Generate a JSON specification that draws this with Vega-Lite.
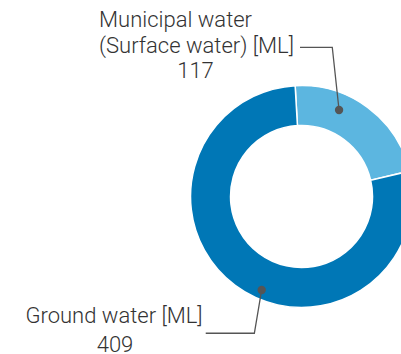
{
  "$schema": "https://vega.github.io/schema/vega-lite/v6.json",
  "width": 401,
  "height": 354,
  "padding": 0,
  "autosize": {"type": "none"},
  "background": "white",
  "config": {"view": {"stroke": null}},
  "datasets": {
    "sources": [
      {"source": "Municipal water (Surface water)", "value": 117, "rank": 1},
      {"source": "Ground water", "value": 409, "rank": 2}
    ],
    "leaders": [
      {"group": "municipal", "seq": 1, "x": -1.35, "y": 134.4},
      {"group": "municipal", "seq": 2, "x": 27.7, "y": 134.4},
      {"group": "municipal", "seq": 3, "x": 33.8, "y": 77.9},
      {"group": "ground", "seq": 1, "x": -35.9, "y": -84.2},
      {"group": "ground", "seq": 2, "x": -42.5, "y": -123.2},
      {"group": "ground", "seq": 3, "x": -86.3, "y": -123.2}
    ],
    "dots": [
      {"group": "municipal", "x": 33.8, "y": 77.9},
      {"group": "ground", "x": -35.9, "y": -84.2}
    ],
    "labels": [
      {"text": "Municipal water", "anchor": "left", "x": -182.4, "y": 152.4},
      {"text": "(Surface water) [ML]", "anchor": "left", "x": -182.4, "y": 129.0},
      {"text": "117", "anchor": "center", "x": -95.5, "y": 106.8},
      {"text": "Ground water [ML]", "anchor": "center", "x": -168.9, "y": -114.2},
      {"text": "409", "anchor": "center", "x": -168.0, "y": -139.8}
    ]
  },
  "layer": [
    {
      "data": {"name": "sources"},
      "mark": {"type": "arc", "outerRadius": 111, "innerRadius": 71, "stroke": "white", "strokeWidth": 1.5},
      "encoding": {
        "theta": {"field": "value", "type": "quantitative", "stack": true, "scale": {"range": [-0.0576, 6.2256]}},
        "order": {"field": "rank", "type": "quantitative"},
        "color": {
          "field": "source", "type": "nominal",
          "scale": {"domain": ["Municipal water (Surface water)", "Ground water"], "range": ["#5CB6E0", "#0077B6"]},
          "legend": null
        },
        "x": {"datum": 0, "type": "quantitative", "scale": {"domain": [-271.6, 89.6], "nice": false, "zero": false}, "axis": null},
        "y": {"datum": 0, "type": "quantitative", "scale": {"domain": [-141.9, 177], "nice": false, "zero": false}, "axis": null}
      }
    },
    {
      "data": {"name": "leaders"},
      "mark": {"type": "line", "color": "#555555", "strokeWidth": 1.3},
      "encoding": {
        "x": {"field": "x", "type": "quantitative"},
        "y": {"field": "y", "type": "quantitative"},
        "detail": {"field": "group"},
        "order": {"field": "seq", "type": "quantitative"}
      }
    },
    {
      "data": {"name": "dots"},
      "mark": {"type": "point", "filled": true, "color": "#555555", "size": 70, "opacity": 1},
      "encoding": {
        "x": {"field": "x", "type": "quantitative"},
        "y": {"field": "y", "type": "quantitative"}
      }
    },
    {
      "data": {"name": "labels"},
      "transform": [{"filter": "datum.anchor === 'left'"}],
      "mark": {"type": "text", "align": "left", "baseline": "alphabetic", "font": "Roboto", "fontWeight": 300, "fontSize": 22, "color": "#333333"},
      "encoding": {
        "x": {"field": "x", "type": "quantitative"},
        "y": {"field": "y", "type": "quantitative"},
        "text": {"field": "text"}
      }
    },
    {
      "data": {"name": "labels"},
      "transform": [{"filter": "datum.anchor === 'center'"}],
      "mark": {"type": "text", "align": "center", "baseline": "alphabetic", "font": "Roboto", "fontWeight": 300, "fontSize": 22, "color": "#333333"},
      "encoding": {
        "x": {"field": "x", "type": "quantitative"},
        "y": {"field": "y", "type": "quantitative"},
        "text": {"field": "text"}
      }
    }
  ]
}
